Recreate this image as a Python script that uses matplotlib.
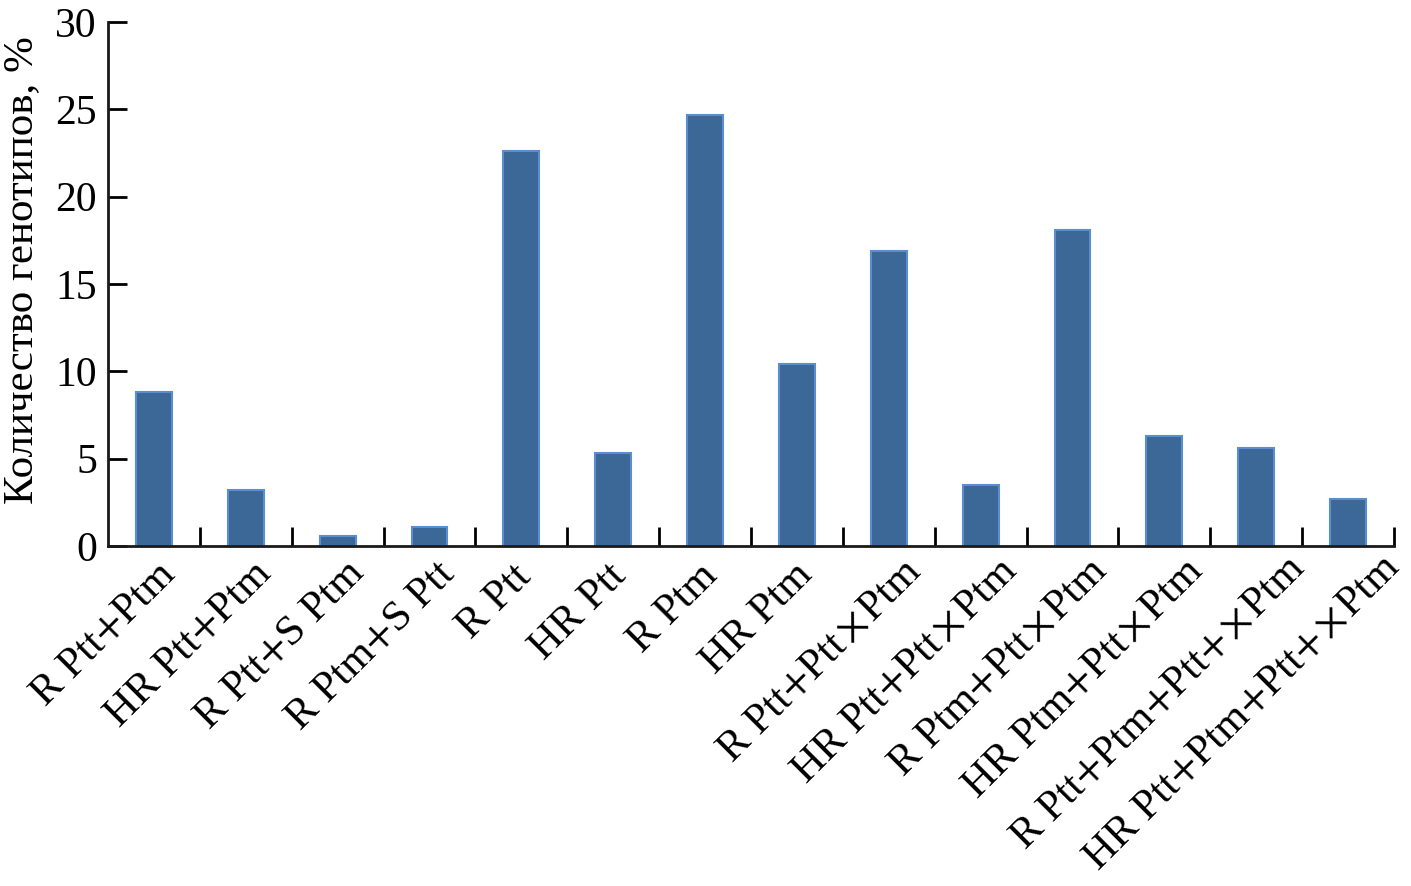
import matplotlib
matplotlib.use("Agg")
import matplotlib.pyplot as plt
import matplotlib.transforms as mtransforms
import numpy as np

categories = [
    "R Ptt+Ptm", "HR Ptt+Ptm", "R Ptt+S Ptm", "R Ptm+S Ptt", "R Ptt", "HR Ptt",
    "R Ptm", "HR Ptm", "R Ptt+Ptt×Ptm", "HR Ptt+Ptt×Ptm", "R Ptm+Ptt×Ptm",
    "HR Ptm+Ptt×Ptm", "R Ptt+Ptm+Ptt+×Ptm", "HR Ptt+Ptm+Ptt+×Ptm",
]
values = [8.8, 3.2, 0.6, 1.1, 22.6, 5.3, 24.7, 10.4, 16.9, 3.5, 18.1, 6.3, 5.6, 2.7]
yticks = [0, 5, 10, 15, 20, 25, 30]
ylabel = "Количество генотипов, %"

plt.rcParams['font.family'] = ['Liberation Serif', 'DejaVu Serif']
plt.rcParams['mathtext.fontset'] = 'stix'

def mathops(s):
    return s.replace("+", "$+$").replace("×", "\u200a$\\times$\u200a").replace("$$", "")

DPI = 100
fig = plt.figure(figsize=(14.11, 8.86), dpi=DPI)
ax = fig.add_axes([0.0765, 0.3837, 0.9115, 0.5915])

x = np.arange(len(categories))
ax.bar(x, values, width=0.39, color='#3C6898', edgecolor='#5A8ED0', linewidth=1.5, zorder=2)

ax.set_xlim(-0.5, len(categories) - 0.5)
ax.set_ylim(0, 30)
ax.set_yticks(yticks)
ax.set_yticklabels([str(t) for t in yticks], fontsize=30)
ax.tick_params(axis='y', direction='in', length=14, width=2, pad=8)

ax.set_xticks(np.arange(len(categories)) + 0.5, minor=True)
ax.set_xticks([])
ax.tick_params(axis='x', which='minor', direction='in', length=14, width=2)

for s in ['top', 'right']:
    ax.spines[s].set_visible(False)
for s in ['left', 'bottom']:
    ax.spines[s].set_linewidth(2)
    ax.spines[s].set_color('#1a1a1a')

ax.set_ylabel(ylabel, fontsize=31)
ax.yaxis.set_label_coords(-0.052, 0.527)

# category labels, rotated, anchored at the category position below the axis
base = ax.get_xaxis_transform()
labels = []
for i, c in enumerate(categories):
    off = mtransforms.ScaledTranslation(0, -25 / DPI, fig.dpi_scale_trans)
    t = ax.text(i, 0, mathops(c), transform=base + off, rotation=45,
                ha='right', va='center', rotation_mode='anchor', fontsize=31)
    labels.append(t)

fig.canvas.draw()
for t in labels:
    w = t.get_window_extent().width
    dx = 0.175 * w - 12
    dy = 0.041 * w - 3.3
    off = mtransforms.ScaledTranslation(dx / DPI, (-25 + dy) / DPI, fig.dpi_scale_trans)
    t.set_transform(base + off)

fig.savefig("out.png", dpi=DPI)
